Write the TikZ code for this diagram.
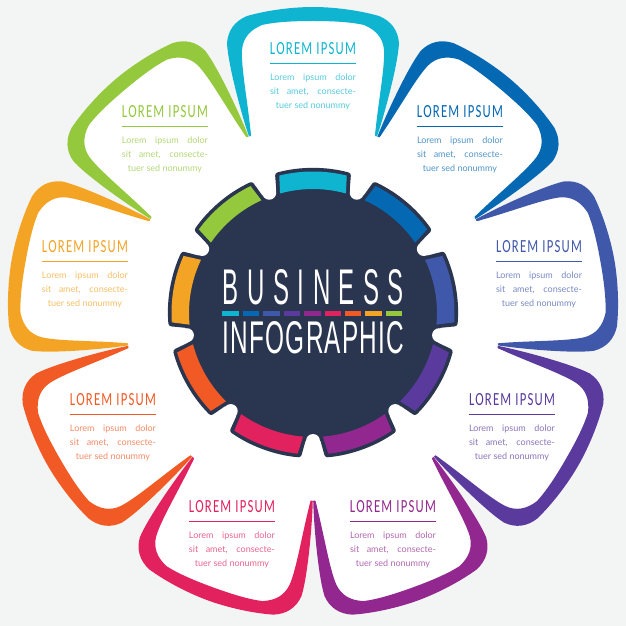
\documentclass[tikz,border=0pt]{standalone}
\usepackage{graphicx}
\usepackage{fontspec}
\setmainfont{Lato}
\newfontfamily\titlefont[FakeStretch=0.62,LetterSpace=6]{Carlito}
\newfontfamily\spacedfont[FakeStretch=0.62,LetterSpace=22]{Liberation Sans}
\newfontfamily\tightfont[FakeStretch=0.62,LetterSpace=3]{Liberation Sans}
\definecolor{navy}{HTML}{2A3550}
\definecolor{paper}{HTML}{F3F4F4}
\definecolor{ccyan}{HTML}{0FB5D0}
\definecolor{cblue}{HTML}{0568B3}
\definecolor{cindigo}{HTML}{3F58A9}
\definecolor{cpurple}{HTML}{5A3A9C}
\definecolor{cmagenta}{HTML}{92278F}
\definecolor{ccrimson}{HTML}{E2215F}
\definecolor{cred}{HTML}{F15A24}
\definecolor{corange}{HTML}{F4A425}
\definecolor{cgreen}{HTML}{94C83D}
\newcommand{\petalouter}{(-64,176.5) .. controls (-71,197) and (-85,248) .. (-86,270)
  .. controls (-85,283) and (-78,292) .. (-66,297)
  .. controls (-45,303) and (-20,306) .. (0,306)
  .. controls (20,306) and (45,303) .. (66,297)
  .. controls (78,292) and (85,283) .. (86,270)
  .. controls (85,248) and (71,197) .. (64,176.5)}
\newcommand{\petalinner}{(62,177.5) .. controls (65,210) and (72,245) .. (71,263)
  .. controls (70,275) and (63,283) .. (51,288)
  .. controls (38,291) and (20,292) .. (0,292)
  .. controls (-20,292) and (-38,291) .. (-51,288)
  .. controls (-63,283) and (-70,275) .. (-71,263)
  .. controls (-72,245) and (-65,210) .. (-62,177.5)}
\tikzset{
  petalband/.style={line width=1.6pt,line join=round},
  headtext/.style={inner sep=0pt,minimum width=86pt,font=\titlefont},
  bodytext/.style={inner sep=0pt,font=\fontsize{9}{14}\selectfont,align=center},
  rulerline/.style={line width=1.1pt}
}
\newcommand{\jline}[1]{\makebox[86pt][s]{#1}}
\begin{document}
\begin{tikzpicture}[x=1pt,y=1pt]
  \fill[paper] (-313,-313) rectangle (313,313);
  \useasboundingbox (-313,-313) rectangle (313,313);
  % white inside of the flower
  \fill[white] (0,0) circle (187);
  \foreach \m in {-110,-150,170,130,90,50,10,-30,-70} {
    \fill[white,rotate=\m-90] \petalouter -- cycle;
  }
  % coloured bands
  \foreach \m/\col in {-110/ccrimson,-150/cred,170/corange,130/cgreen,90/ccyan,50/cblue,10/cindigo,-30/cpurple,-70/cmagenta} {
    \fill[\col,rotate=\m-90] \petalouter -- \petalinner -- cycle;
    \draw[\col,petalband,line cap=round,rotate=\m-90] (-63,177.5) -- (-63.5,182);
    \draw[\col,petalband,line cap=round,rotate=\m-90] (63,177.5) -- (63.5,182);
  }
  % centre wheel
  \fill[navy] (0,0) circle (128);
  \foreach \m in {90,50,10,-30,-70,-110,-150,170,130} {
    \fill[navy,rounded corners=2.5pt] (\m+17.5:120) -- (\m+15.2:145) arc[start angle=\m+15.2,end angle=\m-15.2,radius=145] -- (\m-17.5:120) -- cycle;
  }
  \foreach \m in {70,30,-10,-50,-90,-130,-170,150,110} {
    \fill[white] (\m:128) circle (7);
  }
  \foreach \m/\col in {90/ccyan,50/cblue,10/cindigo,-30/cpurple,-70/cmagenta,-110/ccrimson,-150/cred,170/corange,130/cgreen} {
    \fill[\col] (\m+13.8:141.5) arc[start angle=\m+13.8,end angle=\m-13.8,radius=141.5] -- (\m-15.4:124) arc[start angle=\m-15.4,end angle=\m+15.4,radius=124] -- cycle;
  }
  % centre title
  \node[inner sep=0pt,text=white] (business) at (0.5,25.5) {\resizebox{181pt}{35pt}{\spacedfont BUSINESS}};
  \node[inner sep=0pt,text=white] (infographic) at (0.5,-25) {\resizebox{181pt}{32pt}{\tightfont INFOGRAPHIC}};
  \foreach \i/\col in {0/ccyan,1/cblue,2/cindigo,3/cpurple,4/cmagenta,5/ccrimson,6/cred,7/corange,8/cgreen} {
    \fill[\col] (-90.5+20.4*\i,-3) rectangle ++(16.4,5);
  }
  % labels
  \foreach \name/\x/\y/\col in {
    cyan/313/49/ccyan,blue/460/112/cblue,indigo/539/247/cindigo,purple/512/400/cpurple,
    magenta/393/507/cmagenta,crimson/232/507/ccrimson,red/113/400/cred,orange/85/247/corange,green/165/112/cgreen} {
    \node[headtext,text=\col] (head\name) at (\x-313,313-\y) {\resizebox{86pt}{12pt}{LOREM IPSUM}};
    \coordinate (ruleL\name) at ([yshift=-8.5pt]head\name.south west);
    \coordinate (ruleR\name) at ([yshift=-8.5pt]head\name.south east);
    \draw[rulerline,\col] (ruleL\name) -- (ruleR\name);
    \node[bodytext,text=\col!70,anchor=north] (text\name) at ([yshift=-18pt]head\name.south) {\jline{Lorem ipsum dolor}\\\jline{sit amet, consecte-}\\tuer sed nonummy};
  }
\end{tikzpicture}
\end{document}
